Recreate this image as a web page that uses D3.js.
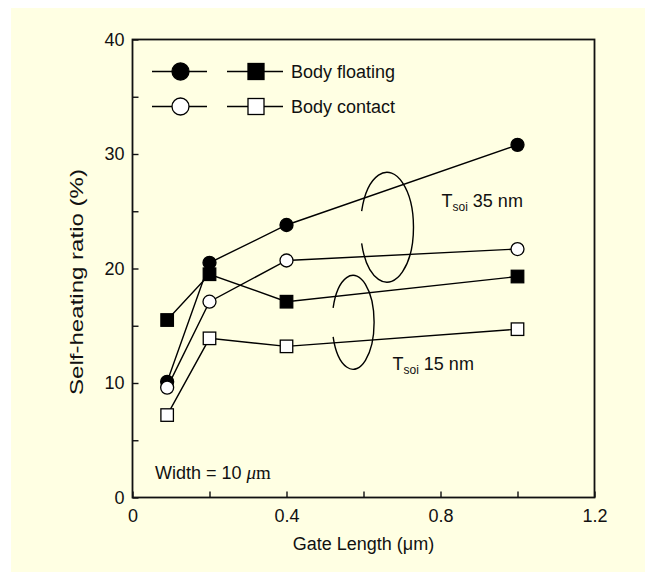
<!DOCTYPE html>
<html>
<head>
<meta charset="utf-8">
<script src="https://cdn.jsdelivr.net/npm/d3@7"></script>
<style>
  body { margin: 0; background: #ffffff; }
  text { font-family: "Liberation Sans", Arial, Helvetica, sans-serif; fill: #111; }
</style>
</head>
<body>
<svg id="chart" width="645" height="572"></svg>
<script>
// Gate length (um) and self-heating ratio (%) per device type
const gateLength   = [0.09, 0.2, 0.4, 1.0];
const floating35nm = [10.1, 20.5, 23.8, 30.8];
const contact35nm  = [9.6, 17.1, 20.7, 21.7];
const floating15nm = [15.5, 19.5, 17.1, 19.3];
const contact15nm  = [7.2, 13.9, 13.2, 14.7];

const xTickValues = [0, 0.2, 0.4, 0.6, 0.8, 1.0, 1.2];
const xTickLabels = { 0: "0", 0.4: "0.4", 0.8: "0.8", 1.2: "1.2" };
const yTickValues = [0, 5, 10, 15, 20, 25, 30, 35, 40];
const yTickLabels = { 0: "0", 10: "10", 20: "20", 30: "30", 40: "40" };

const legendLabels = ["Body floating", "Body contact"];

const FS = 18;
const svg = d3.select("#chart");
const W = 645, H = 572;

// pale page panel
svg.append("rect").attr("x", 11).attr("y", 8).attr("width", W - 11).attr("height", H - 8)
  .attr("fill", "#ffffe3");

const x = d3.scaleLinear().domain([0, 1.2]).range([132.5, 594.5]);
const y = d3.scaleLinear().domain([0, 40]).range([497.5, 39.5]);

// axes with inward ticks
const xAxis = d3.axisBottom(x).tickValues(xTickValues).tickSize(-6).tickSizeOuter(0)
  .tickPadding(12).tickFormat(d => xTickLabels[Math.round(d * 10) / 10] ?? "");
const yAxis = d3.axisLeft(y).tickValues(yTickValues).tickSize(-6).tickSizeOuter(0)
  .tickPadding(8).tickFormat(d => yTickLabels[d] ?? "");

const gx = svg.append("g").attr("transform", `translate(0,${y(0)})`).call(xAxis);
const gy = svg.append("g").attr("transform", `translate(${x(0)},0)`).call(yAxis);
[gx, gy].forEach(g => {
  g.select(".domain").remove();
  g.selectAll(".tick line").attr("stroke", "#111").attr("stroke-width", 1.4);
  g.selectAll(".tick text").attr("font-size", FS).attr("fill", "#111")
    .style("font-family", '"Liberation Sans", Arial, sans-serif');
});

// plot frame
svg.append("rect")
  .attr("x", x(0)).attr("y", y(40))
  .attr("width", x(1.2) - x(0)).attr("height", y(0) - y(40))
  .attr("fill", "none").attr("stroke", "#111").attr("stroke-width", 1.8);

// axis titles
svg.append("text").attr("x", (x(0) + x(1.2)) / 2).attr("y", 550)
  .attr("text-anchor", "middle").attr("font-size", FS).text("Gate Length (\u03bcm)");
svg.append("text").attr("transform", "translate(83,282) rotate(-90)")
  .attr("text-anchor", "middle").attr("font-size", FS)
  .attr("textLength", 226).attr("lengthAdjust", "spacingAndGlyphs")
  .text("Self-heating ratio (%)");

// series
const series = [
  { values: floating35nm, shape: "circle", filled: true },
  { values: contact35nm,  shape: "circle", filled: false },
  { values: floating15nm, shape: "square", filled: true },
  { values: contact15nm,  shape: "square", filled: false }
];

const line = d3.line().x(d => x(d[0])).y(d => y(d[1]));

function drawMarker(g, cx, cy, shape, filled, size) {
  if (shape === "circle") {
    g.append("circle").attr("cx", cx).attr("cy", cy).attr("r", size / 2)
      .attr("fill", filled ? "#000" : "#fff").attr("stroke", "#000").attr("stroke-width", 1.3);
  } else {
    g.append("rect").attr("x", cx - size / 2).attr("y", cy - size / 2)
      .attr("width", size).attr("height", size)
      .attr("fill", filled ? "#000" : "#fff").attr("stroke", "#000").attr("stroke-width", 1.3);
  }
}

series.forEach(s => {
  const pts = gateLength.map((g, i) => [g, s.values[i]]);
  const g = svg.append("g");
  g.append("path").attr("d", line(pts)).attr("fill", "none")
    .attr("stroke", "#000").attr("stroke-width", 1.4);
  pts.forEach(p => drawMarker(g, x(p[0]), y(p[1]), s.shape, s.filled,
    s.shape === "circle" ? 13 : 12.5));
});

// legend
const legendRows = [71.5, 106.5];
legendLabels.forEach((label, i) => {
  const g = svg.append("g");
  const ly = legendRows[i];
  g.append("line").attr("x1", 152).attr("x2", 207).attr("y1", ly).attr("y2", ly)
    .attr("stroke", "#000").attr("stroke-width", 1.4);
  drawMarker(g, 180.5, ly, "circle", i === 0, 17);
  g.append("line").attr("x1", 227).attr("x2", 283).attr("y1", ly).attr("y2", ly)
    .attr("stroke", "#000").attr("stroke-width", 1.4);
  drawMarker(g, 256, ly, "square", i === 0, 16);
  g.append("text").attr("x", 291).attr("y", ly + 6.5).attr("font-size", FS).text(label);
});

// grouping loops (open on the left side)
const loops = [
  { cx: 0.661, cy: 23.6, rx: 26.5, ry: 55, gap: 17 },
  { cx: 0.573, cy: 15.3, rx: 21, ry: 47, gap: 18 }
];
loops.forEach(l => {
  const cx = x(l.cx), cy = y(l.cy);
  const phi = l.gap * Math.PI / 180;
  const a0 = Math.PI + phi, a1 = Math.PI - phi;
  const sx = cx + l.rx * Math.cos(a0), sy = cy + l.ry * Math.sin(a0);
  const ex = cx + l.rx * Math.cos(a1), ey = cy + l.ry * Math.sin(a1);
  svg.append("path")
    .attr("d", `M${sx},${sy} A${l.rx},${l.ry} 0 1 1 ${ex},${ey}`)
    .attr("fill", "none").attr("stroke", "#000").attr("stroke-width", 1.4);
});

// thickness labels
function tsoiLabel(px, py, value) {
  const t = svg.append("text").attr("x", px).attr("y", py).attr("font-size", FS);
  t.append("tspan").text("T");
  t.append("tspan").attr("font-size", 12).attr("dy", 4).text("soi");
  t.append("tspan").attr("dy", -4).text(` ${value} nm`);
}
tsoiLabel(441.5, 207, 35);
tsoiLabel(392.5, 370, 15);

// width note
const wt = svg.append("text").attr("x", 155).attr("y", 479).attr("font-size", FS);
wt.append("tspan").text("Width = 10 ");
wt.append("tspan").style("font-family", '"Liberation Serif", "Times New Roman", serif')
  .attr("font-style", "italic").attr("font-size", 19).text("\u03bc");
wt.append("tspan").style("font-family", '"Liberation Serif", "Times New Roman", serif')
  .attr("font-size", 19).text("m");
</script>
</body>
</html>
